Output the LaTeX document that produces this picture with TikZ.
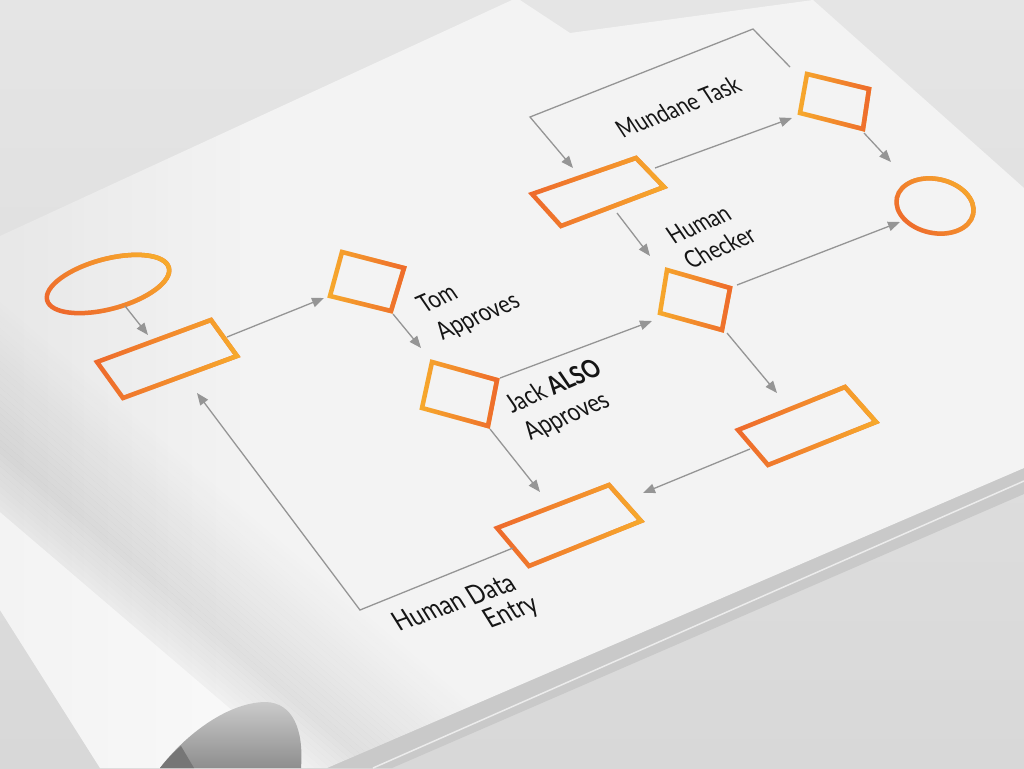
\documentclass[tikz,border=0pt]{standalone}
\usepackage{fontspec}
\setmainfont{Lato}
\usetikzlibrary{arrows.meta,fadings}
\definecolor{cO}{HTML}{EE6A2C}
\definecolor{cY}{HTML}{F7AA2C}
\definecolor{cLine}{HTML}{959595}
\definecolor{cPage}{HTML}{F3F3F3}
\definecolor{cBgTop}{HTML}{E5E5E5}
\definecolor{cBgBot}{HTML}{D8D8D8}
\definecolor{cTxt}{HTML}{151515}
\definecolor{cEdgeDark}{HTML}{C9C9C9}
\definecolor{cEdgeLight}{HTML}{ECECEC}
\definecolor{cHoleTop}{HTML}{CACACA}
\definecolor{cHoleBot}{HTML}{8E8E8E}
\definecolor{cFold}{HTML}{767676}
\tikzfading[name=fadeLR, left color=transparent!100, right color=transparent!0]
\begin{document}
\begin{tikzpicture}[x=1pt,y=-1pt,
  shapeA/.style={line width=4.5pt, line join=miter, draw=cO,
     postaction={draw=cY, line width=4.5pt, path fading=fadeLR}},
  shapeB/.style={line width=4.5pt, line join=miter, draw=cY,
     postaction={draw=cO, line width=4.5pt, path fading=fadeLR}},
  ovalS/.style={line width=4.5pt, draw=cO,
     postaction={draw=cY, line width=4.5pt, path fading=fadeLR, fading angle=35}},
  conn/.style={draw=cLine, line width=1.3pt},
  arr/.style={conn, -{Triangle[length=12pt,width=9.5pt]}},
  lbl/.style={text=cTxt, xslant=-0.3, inner sep=0pt},
  fsTom/.style={font=\fontsize{23}{29}\selectfont},
  fsJack/.style={font=\fontsize{23.5}{29}\selectfont},
  fsHde/.style={font=\fontsize{25}{25}\selectfont},
  fsChk/.style={font=\fontsize{22.5}{27}\selectfont},
]
\useasboundingbox (0,0) rectangle (1024,768);
% background
\shade[top color=cBgTop, bottom color=cBgBot] (0,0) rectangle (1024,768);
% lower sheets
\fill[cEdgeDark] (300,768) -- (1024,462) -- (1024,494) -- (392,768) -- cycle;
\draw[cEdgeLight, line width=1.5pt] (373,768) -- (1024,481);
% page
\def\pagepath{(0,236) -- (512,0) -- (520,0) -- (570,33) -- (813,0) -- (1024,188) -- (1024,468) -- (327,768) -- (100,768) -- (0,610) -- cycle}
\fill[cPage] \pagepath;
\begin{scope}
  \clip \pagepath;
  \foreach \i [evaluate=\i as \op using {0.045*(1-\i/20)}] in {0,...,19}
    \fill[black, opacity=\op] ({\i*12},0) rectangle ({\i*12+12},768);
  \begin{scope}[shift={(133,560)}, rotate=49.5]
    \foreach \i [evaluate=\i as \op using {0.075*(1-\i/22)}] in {0,...,21}
      \fill[black, opacity=\op] ({\i*5},-700) rectangle ({\i*5+5},700);
    \foreach \i [evaluate=\i as \op using {0.075*(1-\i/10)}] in {0,...,9}
      \fill[black, opacity=\op] ({-\i*5-5},-700) rectangle ({-\i*5},700);
    \fill[white, opacity=0.5] (-50,-700) rectangle (-400,700);
  \end{scope}
\end{scope}
% curl hole
\shade[top color=cHoleTop, bottom color=cHoleBot] (160,768) .. controls (185,735) and (228,702) .. (266,702) .. controls (292,703) and (304,728) .. (301,768) -- cycle;
\fill[cFold] (160,768) .. controls (168,758) and (174,752) .. (181,746) -- (194,768) -- cycle;

% ---------- diagram ----------
% start oval
\coordinate (start) at (108,284);
\draw[ovalS, rotate around={15:(start)}] (start) ellipse [x radius=63pt, y radius=25pt];
% rect 1
\coordinate (r1a) at (97,362); \coordinate (r1b) at (211,320);
\coordinate (r1c) at (237,356); \coordinate (r1d) at (123,398);
\draw[shapeA] (r1a) -- (r1b) -- (r1c) -- (r1d) -- cycle;
% Tom
\coordinate (ta) at (342,252); \coordinate (tb) at (404,268);
\coordinate (tc) at (391,311); \coordinate (td) at (330,296);
\draw[shapeB] (ta) -- (tb) -- (tc) -- (td) -- cycle;
% Jack
\coordinate (ja) at (432,362); \coordinate (jb) at (497,380);
\coordinate (jc) at (488,426); \coordinate (jd) at (422,408);
\draw[shapeB] (ja) -- (jb) -- (jc) -- (jd) -- cycle;
% Human data entry
\coordinate (ha) at (497,528); \coordinate (hb) at (609,485);
\coordinate (hc) at (641,521); \coordinate (hd) at (529,566);
\draw[shapeA] (ha) -- (hb) -- (hc) -- (hd) -- cycle;
% bottom right rect
\coordinate (ba) at (738,430); \coordinate (bb) at (845,387);
\coordinate (bc) at (876,422); \coordinate (bd) at (768,465);
\draw[shapeA] (ba) -- (bb) -- (bc) -- (bd) -- cycle;
% human checker
\coordinate (ca) at (667,270); \coordinate (cb) at (730,288);
\coordinate (cc) at (722,330); \coordinate (cd) at (660,313);
\draw[shapeB] (ca) -- (cb) -- (cc) -- (cd) -- cycle;
% mundane rect
\coordinate (ma) at (532,194); \coordinate (mb) at (636,158);
\coordinate (mc) at (664,187); \coordinate (md) at (561,226);
\draw[shapeA] (ma) -- (mb) -- (mc) -- (md) -- cycle;
% mundane diamond
\coordinate (da) at (807,74); \coordinate (db) at (869,89);
\coordinate (dc) at (863,129); \coordinate (dd) at (800,113);
\draw[shapeB] (da) -- (db) -- (dc) -- (dd) -- cycle;
% end circle
\coordinate (end) at (935,206);
\draw[ovalS, rotate around={-12:(end)}] (end) ellipse [x radius=39pt, y radius=27pt];

% ---------- connectors ----------
\coordinate (startOut) at (125,306);  \coordinate (r1In) at (148,335);
\draw[arr] (startOut) -- (r1In);
\coordinate (r1Out) at (227,337);     \coordinate (tomIn) at (324,298);
\draw[arr] (r1Out) -- (tomIn);
\coordinate (tomOut) at (393,314);    \coordinate (jackIn) at (421,348);
\draw[arr] (tomOut) -- (jackIn);
\coordinate (jackOutA) at (500,378);  \coordinate (chkIn) at (652,321);
\draw[arr] (jackOutA) -- (chkIn);
\coordinate (jackOutB) at (490,429);  \coordinate (hdeIn) at (540,492);
\draw[arr] (jackOutB) -- (hdeIn);
\coordinate (hdeOut) at (513,548);    \coordinate (loopA) at (360,610);
\coordinate (r1Back) at (197,393);
\draw[arr] (hdeOut) -- (loopA) -- (r1Back);
\coordinate (brOut) at (750,449);     \coordinate (hdeInB) at (643,493);
\draw[arr] (brOut) -- (hdeInB);
\coordinate (chkOutB) at (727,333);   \coordinate (brIn) at (777,393);
\draw[arr] (chkOutB) -- (brIn);
\coordinate (chkOutA) at (737,285);   \coordinate (endIn) at (900,222);
\draw[arr] (chkOutA) -- (endIn);
\coordinate (mOutB) at (617,213);     \coordinate (chkInB) at (650,256);
\draw[arr] (mOutB) -- (chkInB);
\coordinate (mOutA) at (655,168);     \coordinate (dIn) at (792,118);
\draw[arr] (mOutA) -- (dIn);
\coordinate (dOutLoop) at (790,67);   \coordinate (loopB) at (753,29);
\coordinate (loopC) at (530,117);     \coordinate (mIn) at (573,168);
\draw[arr] (dOutLoop) -- (loopB) -- (loopC) -- (mIn);
\coordinate (dOut) at (864,133);      \coordinate (endInB) at (891,162);
\draw[arr] (dOut) -- (endInB);

% ---------- labels ----------
\node[lbl, fsTom, rotate=21, align=left] (tomL) at (469,304) {Tom\\Approves};
\node[lbl, fsJack, rotate=21, align=left] (jackL) at (563,401) {Jack \textbf{ALSO}\\Approves};
\node[lbl, fsHde, rotate=18, align=right] (hdeL) at (462,616) {Human Data\\Entry\hspace*{-9pt}};
\node[lbl, fsChk, rotate=21, align=left] (chkL) at (711,235) {Human\\Checker};
\node[lbl, fsChk, rotate=19.5] (mundL) at (678,107) {Mundane Task};
\end{tikzpicture}
\end{document}
